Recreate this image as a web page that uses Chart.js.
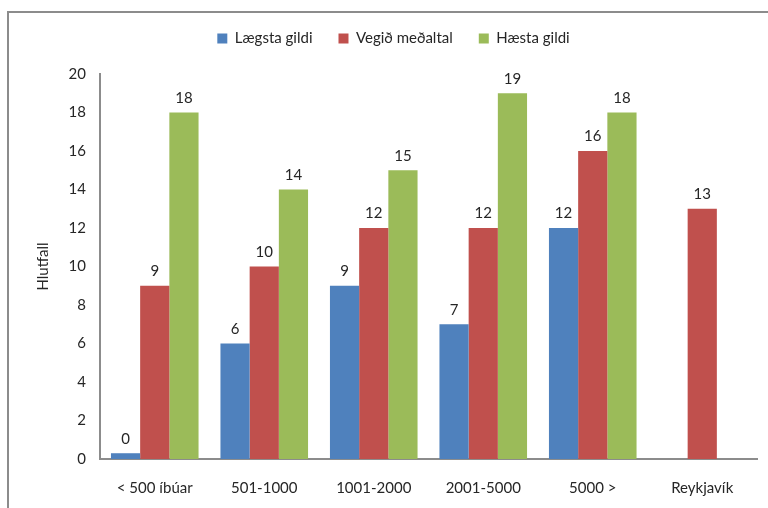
<!DOCTYPE html>
<html>
<head>
<meta charset="utf-8">
<script src="https://cdn.jsdelivr.net/npm/chart.js@4"></script>
<style>
  html, body { margin: 0; padding: 0; background: #fff; overflow: hidden; }
  #wrap { position: relative; width: 768px; height: 508px; }
  #frame { position: absolute; left: 7px; top: 11px; width: 800px; height: 540px; border: 2px solid #8c8c8c; box-sizing: border-box; }
  canvas { position: absolute; left: 0; top: 0; }
</style>
</head>
<body>
<div id="wrap">
  <div id="frame"></div>
  <canvas id="myChart" width="768" height="508"></canvas>
</div>
<script>
const categories = ['< 500 íbúar', '501-1000', '1001-2000', '2001-5000', '5000 >', 'Reykjavík'];
const lowest = [0.3, 6, 9, 7, 12, null];
const weightedMean = [9, 10, 12, 12, 16, 13];
const highest = [18, 14, 15, 19, 18, null];
const yTicks = [0, 2, 4, 6, 8, 10, 12, 14, 16, 18, 20];

const fontFamily = 'Lato, "Open Sans", sans-serif';

// draw the value above each bar
const valueLabels = {
  id: 'valueLabels',
  afterDatasetsDraw(chart) {
    const ctx = chart.ctx;
    ctx.save();
    ctx.font = '15px ' + fontFamily;
    ctx.fillStyle = '#262626';
    ctx.textAlign = 'center';
    ctx.textBaseline = 'bottom';
    chart.data.datasets.forEach((ds, i) => {
      chart.getDatasetMeta(i).data.forEach((bar, j) => {
        const v = ds.data[j];
        if (v === null || v === undefined) return;
        ctx.fillText(Math.round(v), bar.x, bar.y - 7);
      });
    });
    ctx.restore();
  }
};

// extra space under the legend
const legendMargin = {
  id: 'legendMargin',
  beforeInit(chart) {
    const fit = chart.legend.fit;
    chart.legend.fit = function () {
      fit.bind(chart.legend)();
      this.height += 18;
    };
  }
};

const ctx = document.getElementById('myChart').getContext('2d');
new Chart(ctx, {
  type: 'bar',
  data: {
    labels: categories,
    datasets: [
      { label: 'Lægsta gildi', data: lowest, backgroundColor: '#4F81BD' },
      { label: 'Vegið meðaltal', data: weightedMean, backgroundColor: '#C0504D' },
      { label: 'Hæsta gildi', data: highest, backgroundColor: '#9BBB59' }
    ]
  },
  options: {
    responsive: false,
    animation: false,
    layout: { padding: { left: 30, right: 11, top: 5, bottom: 0 } },
    datasets: { bar: { categoryPercentage: 0.8, barPercentage: 1.0 } },
    scales: {
      x: {
        grid: { display: false, drawTicks: false },
        border: { color: '#8c8c8c', width: 2 },
        ticks: { color: '#262626', font: { family: fontFamily, size: 15 }, padding: 20 },
        afterFit: s => { s.height = 49; }
      },
      y: {
        min: 0,
        max: 20,
        afterBuildTicks: s => { s.ticks = yTicks.map(v => ({ value: v })); },
        grid: { display: false, drawTicks: false },
        border: { color: '#8c8c8c', width: 2 },
        ticks: { color: '#262626', font: { family: fontFamily, size: 15 }, padding: 14 },
        title: { display: true, text: 'Hlutfall', color: '#262626', font: { family: fontFamily, size: 15 }, padding: { top: 4, bottom: 0 } },
        afterFit: s => { s.width = 70; }
      }
    },
    plugins: {
      legend: {
        position: 'top',
        labels: {
          boxWidth: 10,
          boxHeight: 10,
          padding: 26,
          color: '#262626',
          font: { family: fontFamily, size: 15 }
        }
      },
      tooltip: { enabled: false }
    }
  },
  plugins: [valueLabels, legendMargin]
});
</script>
</body>
</html>
